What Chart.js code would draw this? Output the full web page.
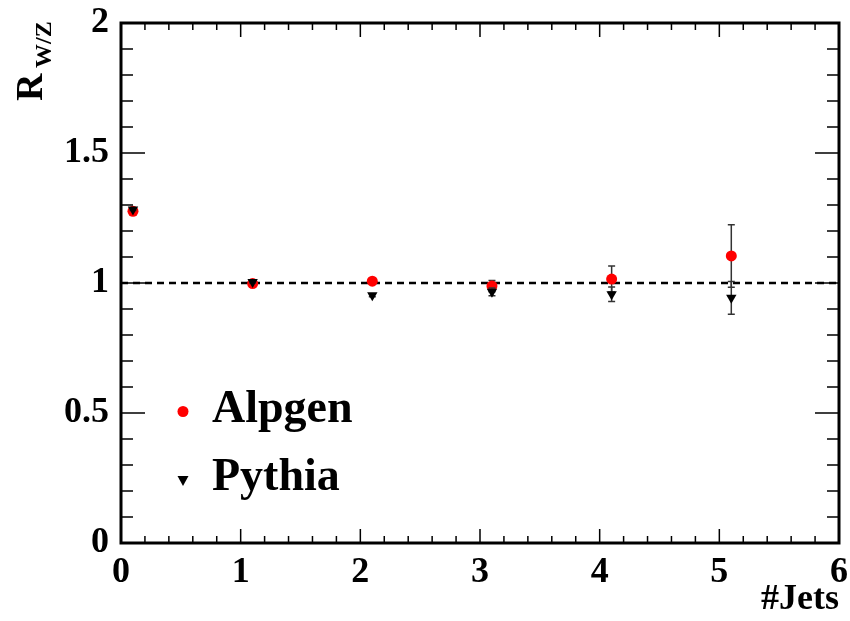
<!DOCTYPE html>
<html>
<head>
<meta charset="utf-8">
<script src="https://cdn.jsdelivr.net/npm/chart.js@4.4.0/dist/chart.umd.min.js"></script>
<style>
  html, body { margin: 0; padding: 0; background: #fff; }
  #wrap { width: 850px; height: 621px; position: relative; }
</style>
</head>
<body>
<div id="wrap"><canvas id="chart"></canvas></div>
<script>
// jet multiplicity bins (points sit slightly right of the integer)
const jetBins = [0.1, 1.1, 2.1, 3.1, 4.1, 5.1];
const alpgenRatio = [1.276, 0.998, 1.007, 0.988, 1.015, 1.104];
const alpgenErr = [0.005, 0.004, 0.006, 0.022, 0.05, 0.12];
const pythiaRatio = [1.283, 1.004, 0.953, 0.966, 0.957, 0.943];
const pythiaErr = [0.004, 0.004, 0.006, 0.015, 0.028, 0.063];
const seriesNames = ['Alpgen', 'Pythia'];
const xRange = [0, 6];
const yRange = [0, 2];
const referenceLine = 1;

const FONT = "'Liberation Serif', 'Times New Roman', serif";

function toPoints(xs, ys) {
    return xs.map((x, i) => ({ x: x, y: ys[i] }));
}

const errorsByDataset = { 1: alpgenErr, 2: pythiaErr };

// vertical error bars, drawn right before each marker set
const errorBars = {
    id: 'errorBars',
    beforeDatasetDraw(chart, args) {
        const errs = errorsByDataset[args.index];
        if (!errs) return;
        const { ctx, scales: { y } } = chart;
        const ds = chart.data.datasets[args.index];
        ctx.save();
        ctx.strokeStyle = '#333';
        ctx.lineWidth = 1.5;
        args.meta.data.forEach((pt, i) => {
            const v = ds.data[i].y;
            const top = y.getPixelForValue(v + errs[i]);
            const bot = y.getPixelForValue(v - errs[i]);
            ctx.beginPath();
            ctx.moveTo(pt.x, top); ctx.lineTo(pt.x, bot);
            ctx.moveTo(pt.x - 3.5, top); ctx.lineTo(pt.x + 3.5, top);
            ctx.moveTo(pt.x - 3.5, bot); ctx.lineTo(pt.x + 3.5, bot);
            ctx.stroke();
        });
        ctx.restore();
    }
};

// ROOT style frame with ticks on all four sides
const frameTicks = {
    id: 'frameTicks',
    afterDatasetsDraw(chart) {
        const { ctx, chartArea: a, scales: { x, y } } = chart;
        ctx.save();
        ctx.strokeStyle = '#000';
        ctx.lineWidth = 1.5;
        ctx.beginPath();
        for (let i = 0; i <= 30; i++) {
            const px = x.getPixelForValue(i * 0.2);
            const len = i % 5 === 0 ? 14 : 7;
            ctx.moveTo(px, a.bottom); ctx.lineTo(px, a.bottom - len);
            ctx.moveTo(px, a.top); ctx.lineTo(px, a.top + len);
        }
        for (let i = 0; i <= 20; i++) {
            const py = y.getPixelForValue(i * 0.1);
            const len = i % 5 === 0 ? 24 : 12;
            ctx.moveTo(a.left, py); ctx.lineTo(a.left + len, py);
            ctx.moveTo(a.right, py); ctx.lineTo(a.right - len, py);
        }
        ctx.stroke();
        ctx.lineWidth = 3;
        ctx.strokeRect(a.left, a.top, a.right - a.left, a.bottom - a.top);
        ctx.restore();
    },
    afterDraw(chart) {
        const { ctx } = chart;
        ctx.save();
        ctx.fillStyle = '#000';
        // y title R_{W/Z}
        ctx.translate(42, 101);
        ctx.rotate(-Math.PI / 2);
        ctx.textBaseline = 'alphabetic';
        ctx.font = 'bold 38px ' + FONT;
        ctx.fillText('R', 0, 0);
        ctx.font = 'bold 24px ' + FONT;
        ctx.fillText('W/Z', 33, 9);
        ctx.restore();

        // legend
        ctx.save();
        ctx.fillStyle = '#ff0000';
        ctx.beginPath();
        ctx.arc(183, 411.5, 5.5, 0, Math.PI * 2);
        ctx.fill();
        ctx.fillStyle = '#000';
        ctx.beginPath();
        ctx.moveTo(177.5, 476); ctx.lineTo(188.5, 476); ctx.lineTo(183, 486);
        ctx.closePath();
        ctx.fill();
        ctx.font = 'bold 46px ' + FONT;
        ctx.textBaseline = 'alphabetic';
        ctx.fillText(seriesNames[0], 212, 421.5);
        ctx.fillText(seriesNames[1], 212, 490);
        ctx.restore();
    }
};

new Chart('chart', {
    type: 'scatter',
    data: {
        datasets: [
            {
                label: 'ref',
                type: 'line',
                data: toPoints(xRange, [referenceLine, referenceLine]),
                borderColor: '#000',
                borderWidth: 2.5,
                borderDash: [7, 5],
                pointRadius: 0,
                order: 3
            },
            {
                label: seriesNames[0],
                data: toPoints(jetBins, alpgenRatio),
                backgroundColor: '#ff0000',
                borderColor: '#ff0000',
                pointStyle: 'circle',
                pointRadius: 5.5,
                borderWidth: 0,
                order: 2
            },
            {
                label: seriesNames[1],
                data: toPoints(jetBins, pythiaRatio),
                backgroundColor: '#000',
                borderColor: '#000',
                pointStyle: 'triangle',
                rotation: 180,
                pointRadius: 6,
                borderWidth: 0,
                order: 1
            }
        ]
    },
    options: {
        responsive: true,
        maintainAspectRatio: false,
        animation: false,
        layout: { padding: { top: 23, right: 11, left: 0, bottom: 0 } },
        plugins: {
            legend: { display: false },
            tooltip: { enabled: false }
        },
        scales: {
            x: {
                type: 'linear',
                min: xRange[0],
                max: xRange[1],
                grid: { display: false },
                border: { display: false },
                ticks: {
                    stepSize: 1,
                    color: '#000',
                    padding: 0,
                    font: { family: FONT, size: 36, weight: 'bold' }
                },
                title: {
                    display: true,
                    text: '#Jets',
                    align: 'end',
                    color: '#000',
                    padding: 0,
                    font: { family: FONT, size: 36, weight: 'bold' }
                },
                afterFit(scale) {
                    scale.height = 78;
                    scale.paddingLeft = 0;
                    scale.paddingRight = 0;
                }
            },
            y: {
                min: yRange[0],
                max: yRange[1],
                grid: { display: false },
                border: { display: false },
                ticks: {
                    stepSize: 0.5,
                    color: '#000',
                    padding: 4,
                    callback: v => String(v),
                    font: { family: FONT, size: 36, weight: 'bold' }
                },
                afterFit(scale) {
                    scale.width = 121;
                    scale.paddingTop = 0;
                    scale.paddingBottom = 0;
                }
            }
        }
    },
    plugins: [errorBars, frameTicks]
});
</script>
</body>
</html>
